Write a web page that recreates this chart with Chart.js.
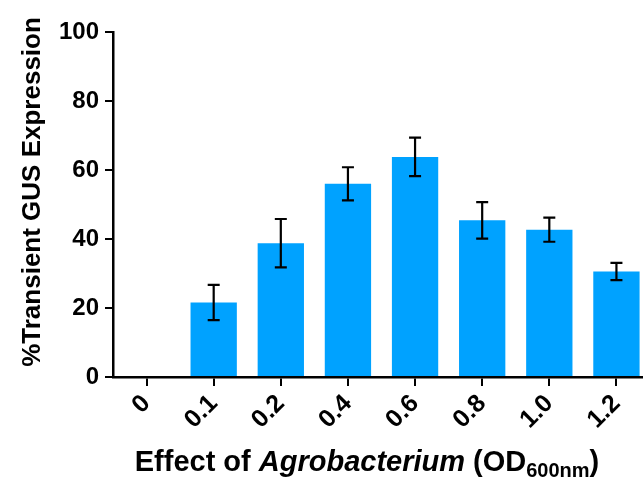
<!DOCTYPE html>
<html>
<head>
<meta charset="utf-8">
<script src="https://cdn.jsdelivr.net/npm/chart.js@4"></script>
<style>
  body { margin: 0; overflow: hidden; background: #fff; }
  #wrap { width: 650px; height: 477px; }
</style>
</head>
<body>
<div id="wrap"><canvas id="myChart" width="650" height="477"></canvas></div>
<script>
const categories = ['0', '0.1', '0.2', '0.4', '0.6', '0.8', '1.0', '1.2'];
const means = [null, 21.6, 38.8, 56.0, 63.8, 45.4, 42.7, 30.6];
const errors = [null, 5.1, 7.0, 4.8, 5.6, 5.3, 3.5, 2.5];
const yTicks = [0, 20, 40, 60, 80, 100];

const FONT = '"Liberation Sans", Arial, sans-serif';

// error bars drawn from the bar elements and the y scale
const errorBars = {
    id: 'errorBars',
    afterDatasetsDraw(chart) {
        const ctx = chart.ctx;
        const y = chart.scales.y;
        const meta = chart.getDatasetMeta(0);
        ctx.save();
        ctx.strokeStyle = '#000';
        ctx.lineWidth = 2.2;
        meta.data.forEach((bar, i) => {
            if (means[i] == null) return;
            const top = y.getPixelForValue(means[i] + errors[i]);
            const bot = y.getPixelForValue(means[i] - errors[i]);
            const x = bar.x;
            ctx.beginPath();
            ctx.moveTo(x, top); ctx.lineTo(x, bot);
            ctx.moveTo(x - 6, top); ctx.lineTo(x + 6, top);
            ctx.moveTo(x - 6, bot); ctx.lineTo(x + 6, bot);
            ctx.stroke();
        });
        ctx.restore();
    }
};

// axis titles (x title has italic + subscript parts)
const axisTitles = {
    id: 'axisTitles',
    afterDraw(chart) {
        const ctx = chart.ctx;
        ctx.save();
        ctx.fillStyle = '#000';
        ctx.textBaseline = 'alphabetic';

        // y title
        ctx.save();
        ctx.translate(40, 192);
        ctx.rotate(-Math.PI / 2);
        ctx.textAlign = 'center';
        ctx.font = 'bold 26px ' + FONT;
        ctx.fillText('%Transient GUS Expression', 0, 0);
        ctx.restore();

        // x title
        const parts = [
            { t: 'Effect of ', f: 'bold 29px ' + FONT, dy: 0 },
            { t: 'Agrobacterium', f: 'italic bold 29px ' + FONT, dy: 0 },
            { t: ' (OD', f: 'bold 29px ' + FONT, dy: 0 },
            { t: '600nm', f: 'bold 20px ' + FONT, dy: 6 },
            { t: ')', f: 'bold 29px ' + FONT, dy: 0 }
        ];
        let total = 0;
        parts.forEach(p => { ctx.font = p.f; p.w = ctx.measureText(p.t).width; total += p.w; });
        let x = 367 - total / 2;
        ctx.textAlign = 'left';
        parts.forEach(p => {
            ctx.font = p.f;
            ctx.fillText(p.t, x, 471 + p.dy);
            x += p.w;
        });
        ctx.restore();
    }
};

const ctx = document.getElementById('myChart');
new Chart(ctx, {
    type: 'bar',
    data: {
        labels: categories,
        datasets: [{
            data: means,
            backgroundColor: '#00A2FF',
            categoryPercentage: 1,
            barPercentage: 0.69
        }]
    },
    options: {
        responsive: false,
        animation: false,
        layout: { padding: { top: 32, right: 0, left: 0, bottom: 0 } },
        plugins: {
            legend: { display: false },
            tooltip: { enabled: false }
        },
        scales: {
            x: {
                afterFit: s => { s.height = 100; },
                grid: {
                    display: true,
                    offset: false,
                    drawOnChartArea: false,
                    drawTicks: true,
                    tickLength: 9,
                    color: '#000',
                    lineWidth: 2
                },
                border: { display: true, color: '#000', width: 2.5 },
                ticks: {
                    color: '#000',
                    font: { family: FONT, size: 25, weight: 'bold' },
                    minRotation: 45,
                    maxRotation: 45,
                    padding: 3
                }
            },
            y: {
                min: 0,
                max: 100,
                afterFit: s => { s.width = 113; },
                afterBuildTicks: s => { s.ticks = yTicks.map(v => ({ value: v })); },
                grid: {
                    display: true,
                    drawOnChartArea: false,
                    drawTicks: true,
                    tickLength: 8,
                    color: '#000',
                    lineWidth: 2
                },
                border: { display: true, color: '#000', width: 2.5 },
                ticks: {
                    color: '#000',
                    font: { family: FONT, size: 24, weight: 'bold' },
                    padding: 6
                }
            }
        }
    },
    plugins: [errorBars, axisTitles]
});
</script>
</body>
</html>
